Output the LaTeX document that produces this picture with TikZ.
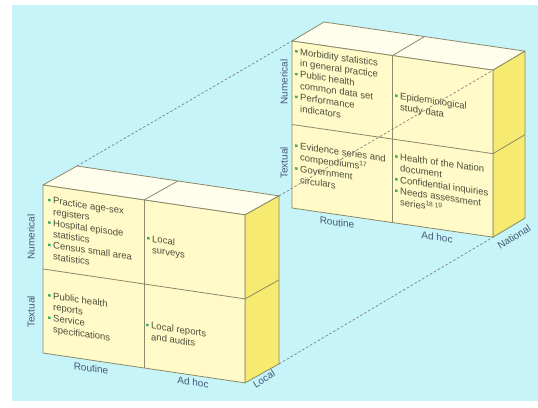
\documentclass[tikz,border=0pt]{standalone}
\usepackage{fontspec}
\setmainfont{Liberation Sans}
\usepackage{xcolor}
\usepackage{tikz}
\usetikzlibrary{calc}

\definecolor{BgCyan}{RGB}{198,244,248}
\definecolor{FaceFront}{RGB}{255,250,200}
\definecolor{FaceTop}{RGB}{255,253,236}
\definecolor{FaceSide}{RGB}{246,234,112}
\definecolor{EdgeOlive}{RGB}{138,138,104}
\definecolor{TextOlive}{RGB}{78,78,58}
\definecolor{LabelBlue}{RGB}{70,88,120}
\definecolor{BulletGreen}{RGB}{60,176,96}

\newcommand{\blt}{\makebox[5pt][l]{\textcolor{BulletGreen}{\rule[2pt]{2.4pt}{2.4pt}}}}
\newcommand{\cnt}{\hspace*{5pt}}

\begin{document}
\begin{tikzpicture}[x=1pt, y=-1pt,
		boxEdge/.style={draw=EdgeOlive, line width=0.8pt, line join=round},
		linkLine/.style={draw=black!55, line width=0.6pt, dash pattern=on 2.5pt off 2pt}]
	\useasboundingbox (0,0) rectangle (538,407);
	\fill[white] (0,0) rectangle (538,407);
	\fill[BgCyan] (12,5) rectangle (538,401);

	\begin{scope}[shift={(43,185)}, yslant=-0.148]
		\coordinate (L-ftl) at (0,0);
		\coordinate (L-ftm) at (101,0);
		\coordinate (L-ftr) at (202,0);
		\coordinate (L-fml) at (0,84);
		\coordinate (L-fmr) at (202,84);
		\coordinate (L-fbl) at (0,168);
		\coordinate (L-fbm) at (101,168);
		\coordinate (L-fbr) at (202,168);
	\end{scope}
	\begin{scope}[shift={(292,41)}, yslant=-0.145]
		\coordinate (R-ftl) at (0,0);
		\coordinate (R-ftm) at (100.5,0);
		\coordinate (R-ftr) at (201,0);
		\coordinate (R-fml) at (0,83.5);
		\coordinate (R-fmr) at (201,83.5);
		\coordinate (R-fbl) at (0,167);
		\coordinate (R-fbm) at (100.5,167);
		\coordinate (R-fbr) at (201,167);
	\end{scope}
	\foreach \c in {tl,tm,tr,mr,br} {
		\coordinate (L-b\c) at ($(L-f\c)+(34,-19)$);
		\coordinate (R-b\c) at ($(R-f\c)+(32,-19)$);
	}

	\foreach \b in {L,R} {
		\filldraw[boxEdge, fill=FaceTop] (\b-ftl) -- (\b-ftr) -- (\b-btr) -- (\b-btl) -- cycle;
		\filldraw[boxEdge, fill=FaceSide] (\b-ftr) -- (\b-fbr) -- (\b-bbr) -- (\b-btr) -- cycle;
		\filldraw[boxEdge, fill=FaceFront] (\b-ftl) -- (\b-ftr) -- (\b-fbr) -- (\b-fbl) -- cycle;
		\draw[boxEdge] (\b-ftm) -- (\b-btm);
		\draw[boxEdge] (\b-fmr) -- (\b-bmr);
		\draw[boxEdge] (\b-ftm) -- (\b-fbm);
		\draw[boxEdge] (\b-fml) -- (\b-fmr);
	}

	\begin{scope}[shift={(43,185)}, yslant=-0.148,
			every node/.style={transform shape, anchor=west, inner sep=0pt, align=left,
				text=TextOlive, font=\fontsize{9.5}{11.2}\selectfont}]
		\node (L-nr) at (5,42) {\blt Practice age-sex\\ \cnt registers\\ \blt Hospital episode\\ \cnt statistics\\ \blt Census small area\\ \cnt statistics};
		\node (L-na) at (104,44) {\blt Local\\ \cnt surveys};
		\node (L-tr) at (5,127) {\blt Public health\\ \cnt reports\\ \blt Service\\ \cnt specifications};
		\node (L-ta) at (103,130) {\blt Local reports\\ \cnt and audits};
	\end{scope}
	\begin{scope}[shift={(292,41)}, yslant=-0.145,
			every node/.style={transform shape, anchor=west, inner sep=0pt, align=left,
				text=TextOlive, font=\fontsize{9.5}{11.4}\selectfont}]
		\node (R-nr) at (3,38) {\blt Morbidity statistics\\ \cnt in general practice\\ \blt Public health\\ \cnt common data set\\ \blt Performance\\ \cnt indicators};
		\node (R-na) at (103,46) {\blt Epidemiological\\ \cnt study data};
		\node (R-tr) at (3,121) {\blt Evidence series and\\ \cnt compendiums\textsuperscript{17}\\ \blt Government\\ \cnt circulars};
		\node (R-ta) at (103,123) {\blt Health of the Nation\\ \cnt document\\ \blt Confidential inquiries\\ \blt Needs assessment\\ \cnt series\textsuperscript{18 19}};
	\end{scope}

	\begin{scope}[shift={(43,185)}, yslant=-0.148,
			every node/.style={transform shape, inner sep=0pt, text=LabelBlue, font=\fontsize{10}{12}\selectfont}]
		\node (L-rout) at (48,176) {Routine};
		\node (L-adhoc) at (150,175) {Ad hoc};
	\end{scope}
	\begin{scope}[shift={(292,41)}, yslant=-0.145,
			every node/.style={transform shape, inner sep=0pt, text=LabelBlue, font=\fontsize{10}{12}\selectfont}]
		\node (R-rout) at (45,175) {Routine};
		\node (R-adhoc) at (145,175) {Ad hoc};
	\end{scope}
	\begin{scope}[every node/.style={inner sep=0pt, text=LabelBlue, font=\fontsize{10}{12}\selectfont}]
		\node[rotate=90] (L-num) at (31,237) {Numerical};
		\node[rotate=90] (L-text) at (31,312) {Textual};
		\node[rotate=90] (R-num) at (284,82) {Numerical};
		\node[rotate=90] (R-text) at (284,163) {Textual};
		\node[rotate=32] (L-local) at (264,379) {Local};
		\node[rotate=32] (R-nat) at (514,237) {National};
	\end{scope}

	\draw[linkLine] (L-btl) -- (R-ftl);
	\draw[linkLine] (L-btr) -- (R-ftr);
	\draw[linkLine] (L-bbr) -- (R-fbr);
\end{tikzpicture}
\end{document}
